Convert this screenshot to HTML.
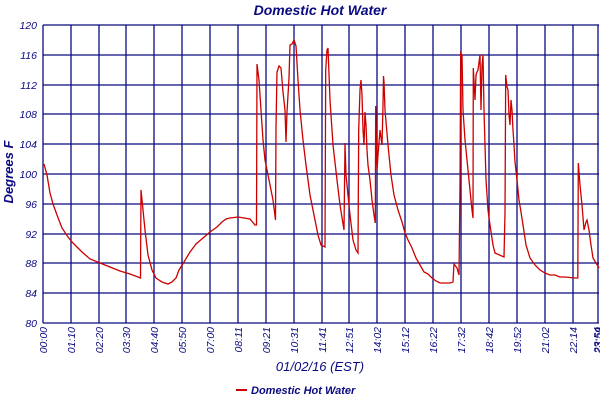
<!DOCTYPE html>
<html><head><style>body{margin:0;background:#fff}</style></head><body>
<svg width="600" height="400" xmlns="http://www.w3.org/2000/svg" font-family="Liberation Sans, sans-serif" font-style="italic">
<text x="320" y="15" text-anchor="middle" font-size="14" font-weight="bold" fill="#0a0a80">Domestic Hot Water</text>
<g stroke="#0a0a80" stroke-width="1.3" fill="none">
<path d="M43 25H599M43 55H599M43 85H599M43 114H599M43 144H599M43 174H599M43 204H599M43 234H599M43 263H599M43 293H599M43 323H599"/>
<path d="M43 25V323M71 25V323M99 25V323M126 25V323M154 25V323M182 25V323M210 25V323M238 25V323M266 25V323M294 25V323M322 25V323M349 25V323M377 25V323M405 25V323M433 25V323M461 25V323M489 25V323M517 25V323M545 25V323M573 25V323M598 25V323"/>
</g>
<g font-size="10.5" fill="#0a0a80" text-anchor="end">
<text x="37" y="29">120</text><text x="37" y="59">116</text><text x="37" y="89">112</text><text x="37" y="118">108</text><text x="37" y="148">104</text><text x="37" y="178">100</text><text x="37" y="208">96</text><text x="37" y="238">92</text><text x="37" y="267">88</text><text x="37" y="297">84</text><text x="37" y="327">80</text>
</g>
<g font-size="10.5" fill="#0a0a80" text-anchor="end">
<text transform="translate(47,327) rotate(-90)">00:00</text>
<text transform="translate(75,327) rotate(-90)">01:10</text>
<text transform="translate(103,327) rotate(-90)">02:20</text>
<text transform="translate(130,327) rotate(-90)">03:30</text>
<text transform="translate(158,327) rotate(-90)">04:40</text>
<text transform="translate(186,327) rotate(-90)">05:50</text>
<text transform="translate(214,327) rotate(-90)">07:00</text>
<text transform="translate(242,327) rotate(-90)">08:11</text>
<text transform="translate(270,327) rotate(-90)">09:21</text>
<text transform="translate(298,327) rotate(-90)">10:31</text>
<text transform="translate(326,327) rotate(-90)">11:41</text>
<text transform="translate(353,327) rotate(-90)">12:51</text>
<text transform="translate(381,327) rotate(-90)">14:02</text>
<text transform="translate(409,327) rotate(-90)">15:12</text>
<text transform="translate(437,327) rotate(-90)">16:22</text>
<text transform="translate(465,327) rotate(-90)">17:32</text>
<text transform="translate(493,327) rotate(-90)">18:42</text>
<text transform="translate(521,327) rotate(-90)">19:52</text>
<text transform="translate(549,327) rotate(-90)">21:02</text>
<text transform="translate(577,327) rotate(-90)">22:14</text>
<text transform="translate(601,327) rotate(-90)">23:54</text>
<text transform="translate(602,327) rotate(-90)">23:59</text>
</g>
<text transform="translate(13,172) rotate(-90)" text-anchor="middle" font-size="13" font-weight="bold" fill="#0a0a80">Degrees F</text>
<text x="320" y="371" text-anchor="middle" font-size="13" fill="#0a0a80">01/02/16 (EST)</text>
<line x1="236" y1="390" x2="247" y2="390" stroke="#cc0000" stroke-width="2"/>
<text x="251" y="394" font-size="11" font-weight="bold" fill="#0a0a80">Domestic Hot Water</text>
<polyline fill="none" stroke="#cc0000" stroke-width="1.3" points="44,164 47,175 50,193 53,204 57,215 62,228 68,237 72,242 77,247 82,252 90,259 100,263 110,267 120,271 130,274 138,277 140.5,278 141,190 142,200 145,230 148,255 152,270 156,278 162,282 168,284 172,282 176,278 179,270 184,262 190,252 196,244 203,238 210,232 217,227 222,222 226,219 230,218 238,217 250,219 255,225 256.5,225 257,64 259,80 261,110 263,140 265,160 268,175 270,185 273,200 275.5,220 276,127 277,72 279,66 281,68 283,92 285,110 286,142 287,112 288,95 289,78 290,45 292,44 294,40 296,46 298,80 300,110 303,140 306,165 310,195 314,215 318,235 321,245 325,247 325.7,70 327,50 328,48 330,100 333,145 337,180 340,205 344,230 345,143 346,175 348,195 350,215 353,240 356,250 358,253 358.7,130 360,90 361,80 362,95 363,130 364,145 365,112 366,125 367,150 368,165 370,180 372,200 374,215 375.3,223 375.7,106 377,170 378,155 380,130 382,145 383,105 383.5,76 384,82 385,110 388,145 391,175 394,195 398,210 402,222 405,233 408,240 412,248 416,258 420,265 424,272 428,274 432,278 436,281 440,283 450,283 453,282 454,264 457,268 459,275 460,185 460.7,53 462,55 463,110 465,140 468,170 470,190 472,210 473,218 473.3,68 475,100 476,75 477,72 478,70 480,55 481,110 482,66 483,55 484,110 486,180 488,210 490,225 493,245 495,253 504,257 505,213 505.7,75 507,87 508,90 509,115 510,125 511,100 512,110 513,130 514,145 515,162 517,180 519,200 521,212 523,225 526,245 530,258 535,265 540,270 545,273 550,275 555,275 560,277 565,277 575,278 577.8,278 578.3,163 580,185 582,205 584,230 586,222 587,220 589,230 591,245 593,258 596,263 599,268"/>
</svg>
</body></html>
